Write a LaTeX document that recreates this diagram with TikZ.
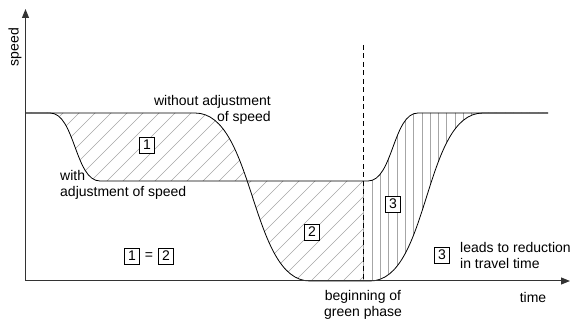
\documentclass[tikz,border=0pt]{standalone}
\usepackage{fontspec}
\setmainfont{Liberation Sans}
\usetikzlibrary{arrows.meta}
\tikzset{
  lbl/.style={inner sep=0pt, font=\fontsize{14}{16}\selectfont},
  numbox/.style={draw, fill=white, line width=0.8pt, minimum width=15pt, minimum height=16pt, inner sep=0pt, font=\fontsize{14}{16}\selectfont},
  axis/.style={line width=1pt, draw=black!80, -{Triangle[length=9pt,width=7pt]}},
  curve/.style={line width=0.8pt, draw=black},
  hatch/.style={line width=0.6pt, draw=black!35},
}
\begin{document}
\begin{tikzpicture}[x=1pt,y=-1pt]
\useasboundingbox (0,0) rectangle (573,320);
\def\withcurve{(26,113) -- (50,113) .. controls (75,113) and (75,181) .. (100,181) -- (368,181) .. controls (393,181) and (393,113) .. (418,113) -- (548,113)}
\def\withoutcurve{(26,113) -- (195,113) .. controls (255,113) and (250,281) .. (310,281) -- (370,281) .. controls (430,281) and (423,113) .. (483,113) -- (548,113)}
% region 1
\begin{scope}
  \clip \withoutcurve -- (548,281) -- (26,281) -- cycle;
  \clip \withcurve -- (548,0) -- (26,0) -- cycle;
  \foreach \i in {-300,-284,...,600} \draw[hatch] (\i,300) -- ++(300,-300);
\end{scope}
% regions 2 and 3
\begin{scope}
  \clip \withcurve -- (548,281) -- (26,281) -- cycle;
  \clip \withoutcurve -- (548,0) -- (26,0) -- cycle;
  \begin{scope}
    \clip (26,0) rectangle (363,300);
    \foreach \i in {-300,-284,...,600} \draw[hatch] (\i,300) -- ++(300,-300);
  \end{scope}
  \begin{scope}
    \clip (363,0) rectangle (548,300);
    \foreach \i in {0,...,22} \draw[hatch] (363.7+8.3*\i,100) -- ++(0,200);
  \end{scope}
\end{scope}
% curves
\draw[curve] \withcurve;
\draw[curve] \withoutcurve;
% axes
\coordinate (o) at (25.5,281);
\coordinate (ytip) at (25.5,9);
\coordinate (xtip) at (570,281);
\draw[axis] (o) -- (ytip);
\draw[axis] (o) -- (xtip);
% dashed line
\coordinate (dtop) at (363,45);
\coordinate (dbot) at (363,281);
\draw[line width=0.8pt, dash pattern=on 5pt off 3.5pt] (dtop) -- (dbot);
% labels
\node[lbl, rotate=90] (speed) at (15,47) {speed};
\node[lbl, align=right, anchor=east] (wo) at (271,110) {without adjustment\\of speed};
\node[lbl, align=left, anchor=west] (w) at (60,185) {with\\adjustment of speed};
\node[lbl, align=center] (green) at (363,305) {beginning of\\green phase};
\node[lbl] (time) at (533,297) {time};
\node[numbox] (b1) at (147,145) {1};
\node[numbox] (b2) at (312,232) {2};
\node[numbox] (b3) at (393,204) {3};
\node[numbox] (e1) at (132,256) {1};
\node[lbl] (eq) at (149,256) {=};
\node[numbox] (e2) at (166,256) {2};
\node[numbox] (l3) at (442,255) {3};
\node[lbl, align=left, anchor=west] (leads) at (460,255) {leads to reduction\\in travel time};
\end{tikzpicture}
\end{document}
